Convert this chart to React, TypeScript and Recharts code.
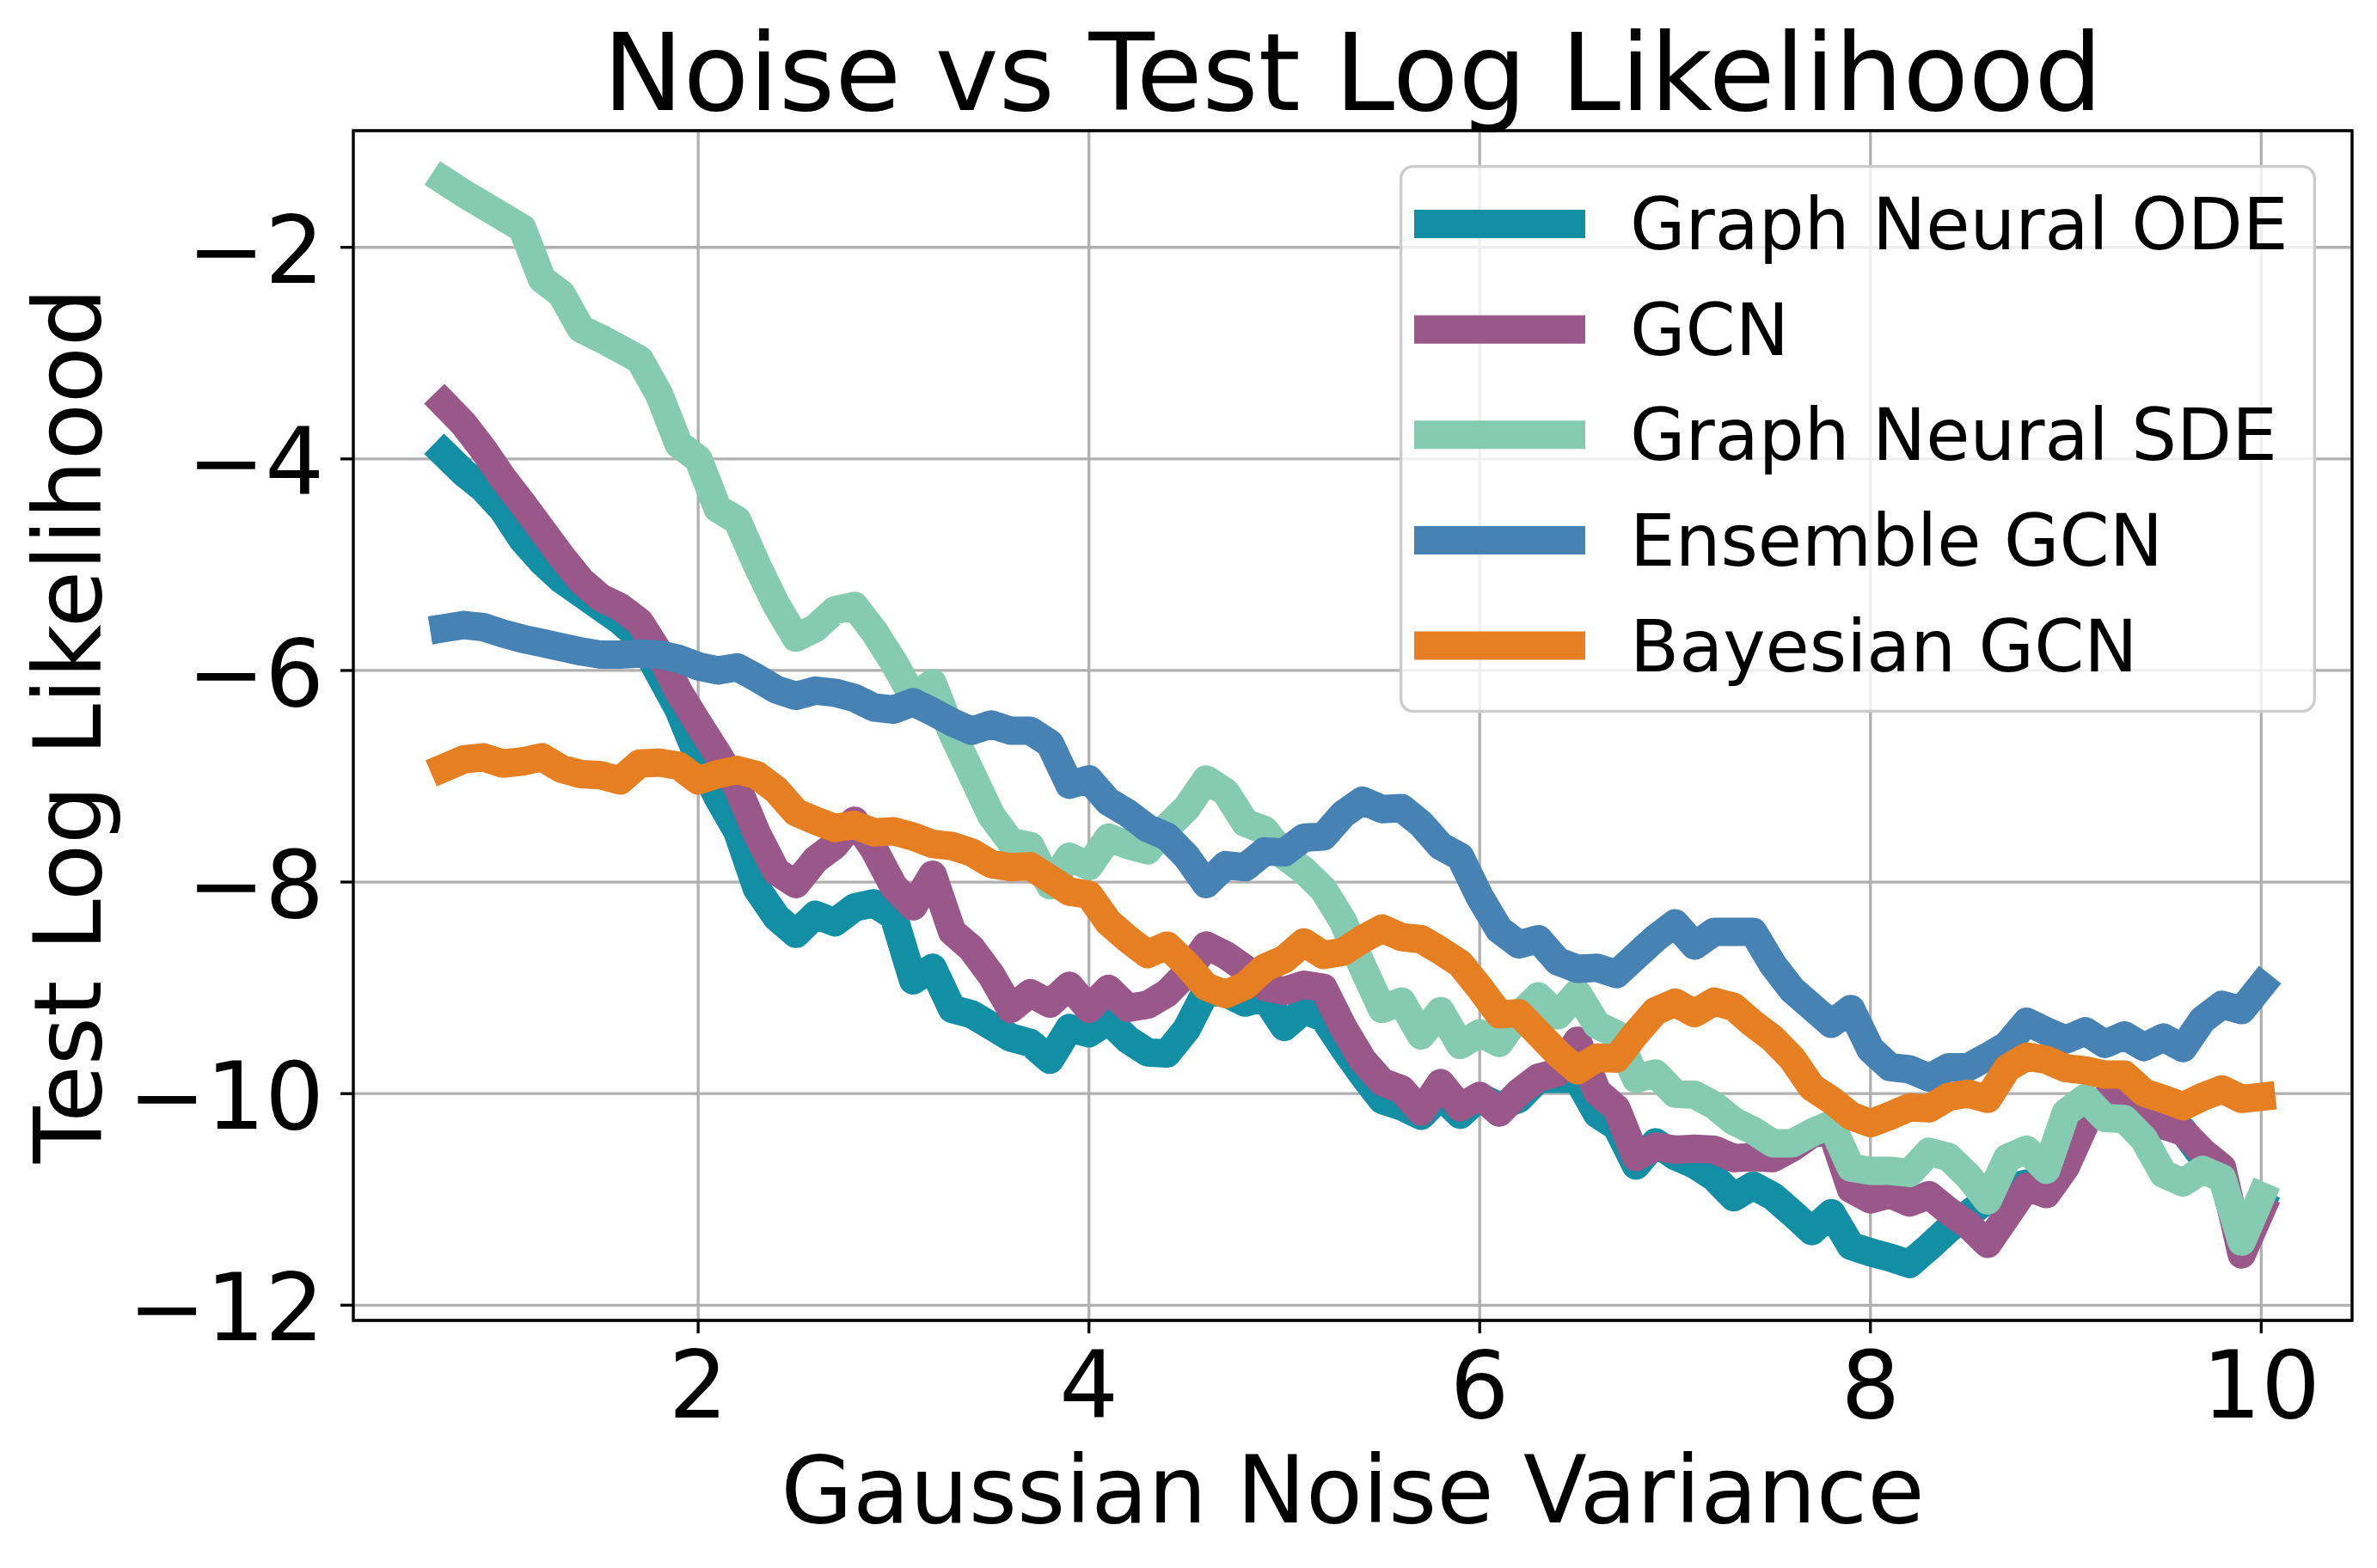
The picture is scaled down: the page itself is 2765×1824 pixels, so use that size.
import React from 'react';
import { LineChart, Line, XAxis, YAxis, CartesianGrid, ReferenceArea, Legend, Label } from 'recharts';

const X_VALUES = [
  0.7, 0.8, 0.9, 1.0, 1.1, 1.2, 1.3, 1.4, 1.5, 1.6, 1.7, 1.8, 1.9, 2.0, 2.1, 2.2, 2.3, 2.4, 2.5, 2.6,
  2.7, 2.8, 2.9, 3.0, 3.1, 3.2, 3.3, 3.4, 3.5, 3.6, 3.7, 3.8, 3.9, 4.0, 4.1, 4.2, 4.3, 4.4, 4.5, 4.6,
  4.7, 4.8, 4.9, 5.0, 5.1, 5.2, 5.3, 5.4, 5.5, 5.6, 5.7, 5.8, 5.9, 6.0, 6.1, 6.2, 6.3, 6.4, 6.5, 6.6,
  6.7, 6.8, 6.9, 7.0, 7.1, 7.2, 7.3, 7.4, 7.5, 7.6, 7.7, 7.8, 7.9, 8.0, 8.1, 8.2, 8.3, 8.4, 8.5, 8.6,
  8.7, 8.8, 8.9, 9.0, 9.1, 9.2, 9.3, 9.4, 9.5, 9.6, 9.7, 9.8, 9.9, 10.0,
];

const ODE = [
  -3.95, -4.13, -4.28, -4.48, -4.76, -4.97, -5.14, -5.27, -5.40, -5.53,
  -5.69, -6.03, -6.37, -6.82, -7.20, -7.52, -8.06, -8.33, -8.49, -8.31,
  -8.38, -8.24, -8.20, -8.32, -8.93, -8.81, -9.20, -9.25, -9.36, -9.47,
  -9.52, -9.68, -9.38, -9.43, -9.31, -9.49, -9.61, -9.62, -9.39, -9.03,
  -9.05, -9.14, -9.09, -9.37, -9.21, -9.28, -9.56, -9.82, -10.06, -10.12,
  -10.21, -10.02, -10.20, -10.03, -10.12, -10.05, -9.86, -9.86, -9.86, -10.19,
  -10.31, -10.68, -10.46, -10.59, -10.67, -10.79, -10.98, -10.87, -10.97, -11.13,
  -11.30, -11.13, -11.44, -11.50, -11.55, -11.61, -11.45, -11.28, -11.14, -11.00,
  -10.90, -10.85, -10.90, -10.65, -10.25, -10.05, -10.05, -10.10, -10.30, -10.35,
  -10.60, -10.77, -11.45, -11.05,
];

const GCN = [
  -3.48, -3.67, -3.91, -4.18, -4.42, -4.67, -4.92, -5.15, -5.31, -5.40,
  -5.54, -5.83, -6.20, -6.50, -6.79, -7.10, -7.54, -7.90, -8.02, -7.79,
  -7.65, -7.42, -7.69, -8.04, -8.23, -7.93, -8.47, -8.63, -8.88, -9.20,
  -9.05, -9.15, -8.98, -9.20, -9.01, -9.19, -9.16, -9.05, -8.86, -8.60,
  -8.69, -8.82, -8.99, -9.03, -8.97, -9.00, -9.37, -9.68, -9.89, -9.96,
  -10.17, -9.90, -10.13, -10.02, -10.18, -9.99, -9.85, -9.80, -9.50, -9.98,
  -10.14, -10.60, -10.50, -10.53, -10.52, -10.53, -10.61, -10.60, -10.61, -10.51,
  -10.38, -10.35, -10.90, -11.00, -10.95, -11.03, -10.96, -11.11, -11.24, -11.42,
  -11.15, -10.88, -10.95, -10.69, -10.28, -10.05, -10.05, -10.10, -10.30, -10.36,
  -10.55, -10.70, -11.52, -11.10,
];

const SDE = [
  -1.37, -1.49, -1.60, -1.71, -1.82, -2.30, -2.44, -2.77, -2.86, -2.96,
  -3.06, -3.39, -3.86, -4.00, -4.47, -4.58, -5.00, -5.38, -5.69, -5.60,
  -5.43, -5.39, -5.63, -5.92, -6.25, -6.12, -6.59, -6.98, -7.37, -7.62,
  -7.66, -8.03, -7.76, -7.85, -7.58, -7.65, -7.70, -7.48, -7.30, -7.03,
  -7.15, -7.44, -7.51, -7.75, -7.89, -8.07, -8.37, -8.80, -9.20, -9.13,
  -9.45, -9.22, -9.54, -9.43, -9.52, -9.26, -9.08, -9.26, -9.05, -9.35,
  -9.44, -9.86, -9.81, -10.00, -10.01, -10.11, -10.26, -10.35, -10.47, -10.47,
  -10.37, -10.29, -10.70, -10.73, -10.73, -10.75, -10.55, -10.60, -10.78, -11.01,
  -10.61, -10.53, -10.72, -10.18, -10.04, -10.23, -10.24, -10.43, -10.76, -10.84,
  -10.72, -10.80, -11.40, -10.97,
];

const ENSEMBLE = [
  -5.60, -5.57, -5.59, -5.65, -5.70, -5.74, -5.78, -5.82, -5.85, -5.85,
  -5.84, -5.85, -5.89, -5.96, -6.00, -5.97, -6.07, -6.18, -6.24, -6.19,
  -6.21, -6.26, -6.35, -6.37, -6.30, -6.39, -6.49, -6.57, -6.51, -6.57,
  -6.57, -6.69, -7.08, -7.03, -7.24, -7.35, -7.49, -7.57, -7.76, -8.02,
  -7.84, -7.86, -7.71, -7.72, -7.58, -7.57, -7.36, -7.23, -7.31, -7.30,
  -7.45, -7.66, -7.76, -8.14, -8.45, -8.59, -8.54, -8.75, -8.82, -8.81,
  -8.87, -8.70, -8.53, -8.39, -8.60, -8.47, -8.47, -8.47, -8.78, -9.02,
  -9.18, -9.34, -9.20, -9.58, -9.75, -9.77, -9.85, -9.75, -9.75, -9.65,
  -9.54, -9.32, -9.41, -9.49, -9.41, -9.53, -9.45, -9.56, -9.47, -9.57,
  -9.30, -9.16, -9.21, -8.98,
];

const BAYESIAN = [
  -6.92, -6.84, -6.82, -6.88, -6.86, -6.82, -6.93, -6.98, -6.99, -7.04,
  -6.88, -6.87, -6.90, -7.04, -6.98, -6.94, -6.99, -7.13, -7.34, -7.42,
  -7.49, -7.46, -7.53, -7.52, -7.57, -7.64, -7.66, -7.72, -7.83, -7.86,
  -7.85, -7.97, -8.09, -8.12, -8.38, -8.54, -8.68, -8.60, -8.78, -8.99,
  -9.06, -8.98, -8.81, -8.73, -8.57, -8.69, -8.66, -8.54, -8.44, -8.52,
  -8.54, -8.65, -8.77, -9.00, -9.25, -9.24, -9.43, -9.62, -9.78, -9.66,
  -9.67, -9.43, -9.22, -9.14, -9.24, -9.13, -9.18, -9.34, -9.48, -9.67,
  -9.94, -10.06, -10.21, -10.28, -10.21, -10.13, -10.14, -10.03, -10.00, -10.05,
  -9.76, -9.65, -9.68, -9.76, -9.78, -9.82, -9.82, -9.99, -10.05, -10.12,
  -10.03, -9.96, -10.05, -10.03,
];

const X_TICKS = [2, 4, 6, 8, 10];
const Y_TICKS = [-12, -10, -8, -6, -4, -2];
const X_DOMAIN = [0.235, 10.465];
const Y_DOMAIN = [-12.144, -0.897];

const SERIES = [
  { key: 'ode', name: 'Graph Neural ODE', color: '#128EA5', values: ODE },
  { key: 'gcn', name: 'GCN', color: '#9A5789', values: GCN },
  { key: 'sde', name: 'Graph Neural SDE', color: '#84CBB1', values: SDE },
  { key: 'ens', name: 'Ensemble GCN', color: '#4682B4', values: ENSEMBLE },
  { key: 'bay', name: 'Bayesian GCN', color: '#E67E22', values: BAYESIAN },
];

const rows = X_VALUES.map((x, i) => {
  const r: Record<string, number> = { x };
  SERIES.forEach((s) => {
    r[s.key] = s.values[i];
  });
  return r;
});

const FONT = '"DejaVu Sans", sans-serif';
const fmt = (v: number) => (v < 0 ? '\u2212' + Math.abs(v) : String(v));

const XTick = (props: any) => {
  const { x, y, payload } = props;
  return (
    <text x={x} y={y + 98} textAnchor="middle" fontSize={108} fontFamily={FONT} fill="#000">
      {fmt(payload.value)}
    </text>
  );
};

const YTick = (props: any) => {
  const { x, y, payload } = props;
  return (
    <text x={x - 19} y={y + 41} textAnchor="end" fontSize={108} fontFamily={FONT} fill="#000">
      {fmt(payload.value)}
    </text>
  );
};

const LegendBox = () => {
  const rowY0 = 68.6;
  const step = 122.6;
  return (
    <svg width={1066} height={637} style={{ display: 'block' }}>
      <rect x={1.65} y={1.65} width={1062.7} height={633.7} rx={14} ry={14}
        fill="rgba(255,255,255,0.8)" stroke="#cccccc" strokeWidth={3.3} />
      {SERIES.map((s, i) => {
        const cy = rowY0 + i * step;
        return (
          <g key={s.key}>
            <line x1={17 + 16.5} x2={216 - 16.5} y1={cy} y2={cy} stroke={s.color}
              strokeWidth={33} strokeLinecap="square" />
            <text x={268} y={cy + 29.5} fontSize={83.3} fontFamily={FONT} fill="#000">
              {s.name}
            </text>
          </g>
        );
      })}
    </svg>
  );
};

export default function App() {
  return (
    <div style={{ position: 'absolute', left: 0, top: 0, width: 2765, height: 1824, background: '#fff' }}>
      <LineChart
        width={2765}
        height={1824}
        data={rows}
        margin={{ top: 152, right: 29, bottom: 0, left: 0 }}
      >
        <CartesianGrid stroke="#b0b0b0" strokeWidth={3.3} />
        <XAxis
          dataKey="x"
          type="number"
          domain={X_DOMAIN}
          ticks={X_TICKS}
          allowDataOverflow
          height={288}
          axisLine={false}
          tickLine={{ stroke: '#000', strokeWidth: 3.3 }}
          tickSize={15}
          tickMargin={0}
          tick={<XTick />}
          interval={0}
        >
          <Label
            content={(p: any) => {
              const vb = p.viewBox;
              return (
                <text x={vb.x + vb.width / 2} y={vb.y + 235} textAnchor="middle" fontSize={108}
                  fontFamily={FONT} fill="#000">
                  Gaussian Noise Variance
                </text>
              );
            }}
          />
        </XAxis>
        <YAxis
          type="number"
          domain={Y_DOMAIN}
          ticks={Y_TICKS}
          allowDataOverflow
          width={411}
          axisLine={false}
          tickLine={{ stroke: '#000', strokeWidth: 3.3 }}
          tickSize={15}
          tickMargin={0}
          tick={<YTick />}
          interval={0}
        >
          <Label
            content={(p: any) => {
              const vb = p.viewBox;
              const cx = 117;
              const cy = vb.y + vb.height / 2;
              return (
                <text x={cx} y={cy} textAnchor="middle" fontSize={108} fontFamily={FONT} fill="#000"
                  transform={`rotate(-90, ${cx}, ${cy})`}>
                  Test Log Likelihood
                </text>
              );
            }}
          />
        </YAxis>
        {SERIES.map((s) => (
          <Line
            key={s.key}
            type="linear"
            dataKey={s.key}
            name={s.name}
            stroke={s.color}
            strokeWidth={33}
            strokeLinecap="square"
            strokeLinejoin="round"
            dot={false}
            activeDot={false}
            isAnimationActive={false}
          />
        ))}
        <ReferenceArea
          x1={X_DOMAIN[0]}
          x2={X_DOMAIN[1]}
          y1={Y_DOMAIN[0]}
          y2={Y_DOMAIN[1]}
          fill="none"
          fillOpacity={0}
          stroke="#000"
          strokeWidth={3.3}
          ifOverflow="visible"
          label={(p: any) => {
            const vb = p.viewBox;
            return (
              <text x={vb.x + vb.width / 2} y={vb.y - 24} textAnchor="middle" fontSize={125}
                fontFamily={FONT} fill="#000">
                Noise vs Test Log Likelihood
              </text>
            );
          }}
        />
        <Legend
          layout="vertical"
          align="center"
          verticalAlign="middle"
          content={() => <LegendBox />}
          wrapperStyle={{ position: 'absolute', left: 1628, top: 192, width: 1066, height: 637 }}
        />
      </LineChart>
    </div>
  );
}
